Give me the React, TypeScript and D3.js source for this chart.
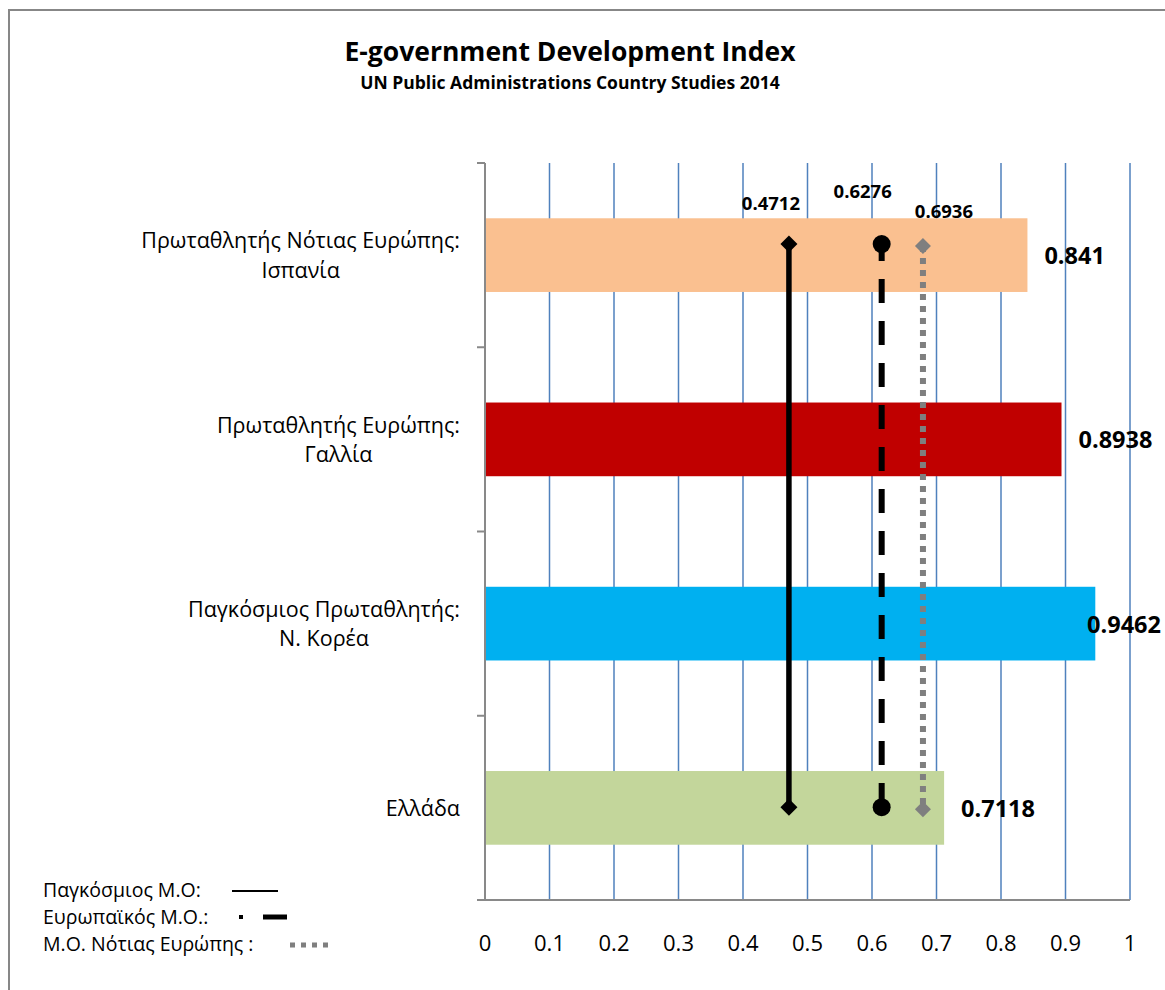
import React, { useEffect, useRef } from "react";
import * as d3 from "d3";

// ---- data ----
const categoryLines: string[][] = [
  ["Πρωταθλητής Νότιας Ευρώπης:", "Ισπανία"],
  ["Πρωταθλητής Ευρώπης:", "Γαλλία"],
  ["Παγκόσμιος Πρωταθλητής:", "Ν. Κορέα"],
  ["Ελλάδα"],
];
const barValues = [0.841, 0.8938, 0.9462, 0.7118];
const barLabels = ["0.841", "0.8938", "0.9462", "0.7118"];
const barColors = ["#FAC090", "#C00000", "#00B0F0", "#C3D69B"];
const xTicks = [0, 0.1, 0.2, 0.3, 0.4, 0.5, 0.6, 0.7, 0.8, 0.9, 1];
const xTickLabels = ["0", "0.1", "0.2", "0.3", "0.4", "0.5", "0.6", "0.7", "0.8", "0.9", "1"];

const refNames = ["Παγκόσμιος Μ.Ο:", "Ευρωπαϊκός Μ.Ο.:", "Μ.Ο. Νότιας Ευρώπης :"];
const refLabels = ["0.4712", "0.6276", "0.6936"];
// x positions where the reference lines are drawn in the picture
const refPositions = [0.4712, 0.615, 0.679];
// secondary-axis heights of the two end points of each reference line
const refEnds = [0.89, 0.126];

const FONT = "'Open Sans', 'Noto Sans', 'DejaVu Sans', sans-serif";

export default function App() {
  const ref = useRef<SVGSVGElement | null>(null);

  useEffect(() => {
    const svg = d3.select(ref.current);
    svg.selectAll("*").remove();

    const x = d3.scaleLinear().domain([0, 1]).range([485, 1130]);
    const catIdx = categoryLines.map((_, i) => String(i));
    const y = d3.scaleBand<string>().domain(catIdx).range([163, 900]).paddingInner(0.6).paddingOuter(0.3);
    const y2 = d3.scaleLinear().domain([0, 1]).range([900, 163]);
    const [top, bottom] = y.range();

    // frame
    svg.append("rect").attr("x", 9).attr("y", 10).attr("width", 1180).attr("height", 1000)
      .attr("fill", "#fff").attr("stroke", "#878787").attr("stroke-width", 2);

    // titles
    svg.append("text").attr("x", 570).attr("y", 61).attr("text-anchor", "middle")
      .attr("font-family", FONT).attr("font-weight", "bold").attr("font-size", 26.5)
      .attr("fill", "#000").text("E-government Development Index");
    svg.append("text").attr("x", 570).attr("y", 89).attr("text-anchor", "middle")
      .attr("font-family", FONT).attr("font-weight", "bold").attr("font-size", 17.5)
      .attr("fill", "#000").text("UN Public Administrations Country Studies 2014");

    // gridlines
    svg.append("g").selectAll("line").data(xTicks.slice(1)).join("line")
      .attr("x1", (d) => x(d)).attr("x2", (d) => x(d))
      .attr("y1", top).attr("y2", bottom)
      .attr("stroke", "#4F81BD").attr("stroke-width", 1.5);

    // bars
    svg.append("g").selectAll("rect").data(barValues).join("rect")
      .attr("x", x(0)).attr("y", (_, i) => y(catIdx[i])!)
      .attr("width", (d) => x(d) - x(0)).attr("height", y.bandwidth())
      .attr("fill", (_, i) => barColors[i]);

    // axes
    const axisColor = "#898989";
    svg.append("line").attr("x1", x(0)).attr("x2", x(0)).attr("y1", top).attr("y2", bottom)
      .attr("stroke", axisColor).attr("stroke-width", 2);
    svg.append("line").attr("x1", x(0)).attr("x2", x(1)).attr("y1", bottom).attr("y2", bottom)
      .attr("stroke", axisColor).attr("stroke-width", 2);
    const boundaries = d3.range(categoryLines.length + 1).map((i) => top + i * y.step());
    svg.append("g").selectAll("line").data(boundaries).join("line")
      .attr("x1", x(0) - 8).attr("x2", x(0)).attr("y1", (d) => d).attr("y2", (d) => d)
      .attr("stroke", axisColor).attr("stroke-width", 2);

    // x tick labels
    svg.append("g").selectAll("text").data(xTicks).join("text")
      .attr("x", (d) => x(d)).attr("y", 951).attr("text-anchor", "middle")
      .attr("font-family", FONT).attr("font-size", 22).attr("fill", "#000")
      .text((_, i) => xTickLabels[i]);

    // category labels (block right-aligned, lines centered)
    categoryLines.forEach((lines, i) => {
      const cy = y(catIdx[i])! + y.bandwidth() / 2;
      const lh = 29.5;
      const g = svg.append("g");
      const texts = lines.map((ln, k) =>
        g.append("text")
          .attr("y", cy + (k - (lines.length - 1) / 2) * lh + 8)
          .attr("text-anchor", "middle")
          .attr("font-family", FONT).attr("font-size", 21.5).attr("fill", "#000")
          .text(ln)
      );
      const maxW = d3.max(texts, (t) => (t.node() as SVGTextElement).getComputedTextLength()) || 0;
      texts.forEach((t) => t.attr("x", 460 - maxW / 2));
    });

    // bar value labels
    barValues.forEach((v, i) => {
      const cy = y(catIdx[i])! + y.bandwidth() / 2;
      const t = svg.append("text").attr("y", cy + 9)
        .attr("font-family", FONT).attr("font-weight", "bold").attr("font-size", 23.5)
        .attr("fill", "#000").text(barLabels[i]);
      const w = (t.node() as SVGTextElement).getComputedTextLength();
      let tx = x(v) + 17;
      if (tx + w > 1161) tx = 1161 - w;
      t.attr("x", tx);
    });

    // reference lines
    const diamond = (cx: number, cy: number, r: number) =>
      `M${cx},${cy - r}L${cx + r},${cy}L${cx},${cy + r}L${cx - r},${cy}Z`;
    const yTop = y2(refEnds[0]);
    const yBot = y2(refEnds[1]);

    // solid world average
    const xa = x(refPositions[0]);
    svg.append("line").attr("x1", xa).attr("x2", xa).attr("y1", yTop).attr("y2", yBot)
      .attr("stroke", "#000").attr("stroke-width", 5.5);
    [yTop, yBot].forEach((yy) => svg.append("path").attr("d", diamond(xa, yy, 8.5)).attr("fill", "#000"));

    // dashed European average
    const xb = x(refPositions[1]);
    svg.append("line").attr("x1", xb).attr("x2", xb).attr("y1", yTop).attr("y2", yBot)
      .attr("stroke", "#000").attr("stroke-width", 6)
      .attr("stroke-dasharray", "24 18").attr("stroke-dashoffset", 7);
    [yTop, yBot].forEach((yy) => svg.append("circle").attr("cx", xb).attr("cy", yy).attr("r", 9).attr("fill", "#000"));

    // dotted Southern Europe average
    const xc = x(refPositions[2]);
    svg.append("line").attr("x1", xc).attr("x2", xc).attr("y1", yTop + 2).attr("y2", yBot + 2)
      .attr("stroke", "#7F7F7F").attr("stroke-width", 6)
      .attr("stroke-dasharray", "6 6");
    [yTop + 2, yBot + 2].forEach((yy) => svg.append("path").attr("d", diamond(xc, yy, 8)).attr("fill", "#7F7F7F"));

    // reference value labels
    const labelOffsets = [[-18, -34], [-19, -46], [21, -26]];
    refPositions.forEach((p, i) => {
      svg.append("text").attr("x", x(p) + labelOffsets[i][0]).attr("y", yTop + labelOffsets[i][1])
        .attr("text-anchor", "middle").attr("font-family", FONT).attr("font-weight", "bold")
        .attr("font-size", 18.5).attr("fill", "#000").text(refLabels[i]);
    });

    // legend
    const legY = [897, 924, 951];
    refNames.forEach((n, i) => {
      svg.append("text").attr("x", 43).attr("y", legY[i]).attr("font-family", FONT)
        .attr("font-size", 19.5).attr("fill", "#000").text(n);
    });
    svg.append("line").attr("x1", 232).attr("x2", 278).attr("y1", 891).attr("y2", 891)
      .attr("stroke", "#000").attr("stroke-width", 2);
    svg.append("rect").attr("x", 239).attr("y", 915).attr("width", 4).attr("height", 4).attr("fill", "#000");
    svg.append("line").attr("x1", 263).attr("x2", 287).attr("y1", 917).attr("y2", 917)
      .attr("stroke", "#000").attr("stroke-width", 5);
    svg.append("line").attr("x1", 290).attr("x2", 332).attr("y1", 945).attr("y2", 945)
      .attr("stroke", "#7F7F7F").attr("stroke-width", 5).attr("stroke-dasharray", "5 6");
  }, []);

  return (
    <svg
      ref={ref}
      width={1165}
      height={990}
      style={{ position: "absolute", left: 0, top: 0, background: "#fff" }}
    />
  );
}
